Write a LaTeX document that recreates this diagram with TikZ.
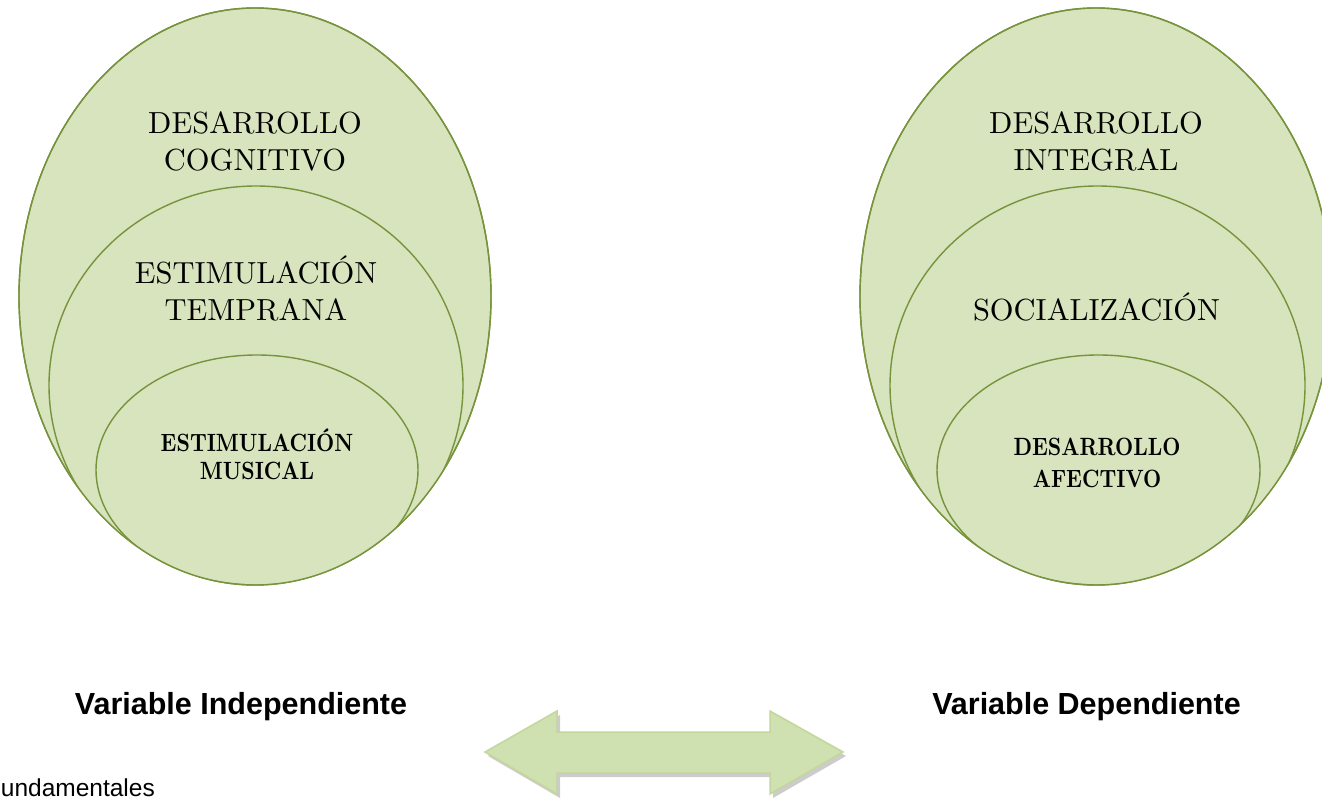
\documentclass[tikz,border=0pt]{standalone}
\usepackage{fontspec}
\setmainfont{lmroman10-regular.otf}[BoldFont=lmroman10-bold.otf]
\newfontfamily\arialf{Liberation Sans}
\newfontfamily\narrowbold{lmroman10-bold.otf}[FakeStretch=0.84]
\usetikzlibrary{shapes.geometric,shadings}
\definecolor{vfill}{HTML}{D7E4BD}
\definecolor{vline}{HTML}{77933C}
\definecolor{arrline}{HTML}{C3D69B}
\definecolor{arrlight}{HTML}{EEF4E3}
\definecolor{arrdark}{HTML}{D0E1B1}
\tikzset{
  venn/.style={ellipse, draw=vline, fill=vfill, line width=1.4pt, inner sep=0pt, outer sep=0pt},
  bigtxt/.style={font=\fontsize{30.5}{37}\selectfont, align=center, inner sep=0pt},
  boldtxt/.style={font=\narrowbold\fontsize{25}{#1}\selectfont, align=center, inner sep=0pt},
  lbl/.style={font=\arialf\bfseries\fontsize{30.5}{34}\selectfont, anchor=base, inner sep=0pt},
}
\begin{document}
\begin{tikzpicture}[x=1pt,y=-1pt]
\useasboundingbox (0,0) rectangle (1322,799);
\begin{scope}
\clip (0,0) rectangle (1322,799);
% ---------- left group ----------
\node[venn, minimum width=472pt, minimum height=577pt] (LA) at (255,296.5) {};
\begin{scope}
\clip (255,296.5) ellipse [x radius=236, y radius=288.5];
\node[venn, minimum width=414pt, minimum height=399pt] (LB) at (256,385.5) {};
\node[venn, minimum width=322pt, minimum height=230pt] (LC) at (257,470) {};
\end{scope}
\draw[vline, line width=1.4pt] (255,296.5) ellipse [x radius=236, y radius=288.5];
% ---------- right group ----------
\node[venn, minimum width=472pt, minimum height=577pt] (RA) at (1096,296.5) {};
\begin{scope}
\clip (1096,296.5) ellipse [x radius=236, y radius=288.5];
\node[venn, minimum width=415pt, minimum height=399pt] (RB) at (1097.5,385.5) {};
\node[venn, minimum width=323pt, minimum height=230pt] (RC) at (1098.5,470) {};
\end{scope}
\draw[vline, line width=1.4pt] (1096,296.5) ellipse [x radius=236, y radius=288.5];
\end{scope}
% ---------- texts ----------
\node[bigtxt] (t1) at (255,141.5) {DESARROLLO\\COGNITIVO};
\node[bigtxt] (t2) at (256,288) {ESTIMULACIÓN\\TEMPRANA};
\node[boldtxt=28] (t3) at (257,454) {ESTIMULACIÓN\\MUSICAL};
\node[bigtxt] (t4) at (1096,141.5) {DESARROLLO\\INTEGRAL};
\node[bigtxt] (t5) at (1096.5,307.3) {SOCIALIZACIÓN};
\node[boldtxt=32] (t6) at (1097,463) {DESARROLLO\\AFECTIVO};
% ---------- labels ----------
\node[lbl] (vi) at (241,714.5) {Variable Independiente};
\node[lbl] (vd) at (1086.5,714.5) {Variable Dependiente};
\node[font=\arialf\fontsize{24.5}{28}\selectfont, anchor=base east, inner sep=0pt] (fu) at (155,796) {undamentales};
% ---------- double arrow ----------
\def\arrowpath{(485,752) -- (557,711) -- (557,732) -- (770,732) -- (770,711) -- (843,752) -- (770,794) -- (770,773) -- (557,773) -- (557,794) -- cycle}
\fill[black!40, opacity=0.5, shift={(3,4)}] \arrowpath;
\shade[top color=arrdark, middle color=arrlight, bottom color=arrdark] \arrowpath;
\draw[arrline, line width=1.5pt, line join=miter] \arrowpath;
\end{tikzpicture}
\end{document}
